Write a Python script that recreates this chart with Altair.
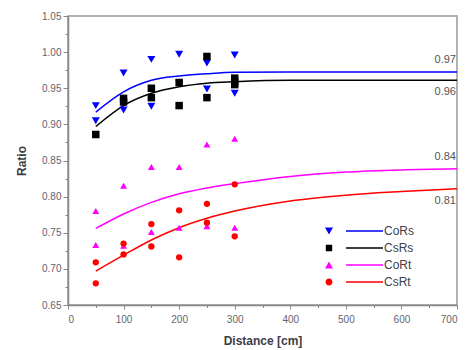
import altair as alt
import pandas as pd

# ---------------- data ----------------
series = ["CoRs", "CsRs", "CoRt", "CsRt"]
colors = ["#0000ff", "#000000", "#ff00ff", "#ff0000"]
shapes = ["triangle-down", "square", "triangle-up", "circle"]
marker_sizes = [64, 40, 64, 48]

cors_x = [50, 50, 100, 100, 150, 150, 200, 200, 250, 250, 300, 300]
cors_y = [0.926, 0.905, 0.971, 0.920, 0.990, 0.925, 0.997, 0.957, 0.985, 0.949, 0.996, 0.943]

csrs_x = [50, 100, 100, 150, 150, 200, 200, 250, 250, 300, 300, 300]
csrs_y = [0.886, 0.936, 0.931, 0.950, 0.937, 0.958, 0.926, 0.994, 0.937, 0.955, 0.959, 0.964]

cort_x = [50, 50, 100, 100, 150, 150, 200, 200, 250, 250, 300, 300]
cort_y = [0.780, 0.733, 0.815, 0.732, 0.841, 0.751, 0.841, 0.757, 0.872, 0.759, 0.880, 0.757]

csrt_x = [50, 50, 100, 100, 150, 150, 200, 200, 250, 250, 300, 300]
csrt_y = [0.709, 0.680, 0.735, 0.720, 0.762, 0.731, 0.781, 0.716, 0.790, 0.764, 0.817, 0.745]

# fitted curves, read at these distances
fit_x = [50, 100, 150, 200, 250, 300, 400, 500, 600, 700]
cors_fit = [0.917, 0.945, 0.961, 0.967, 0.970, 0.972, 0.9725, 0.9725, 0.9725, 0.9725]
csrs_fit = [0.897, 0.926, 0.943, 0.952, 0.957, 0.959, 0.961, 0.961, 0.961, 0.961]
cort_fit = [0.756, 0.776, 0.792, 0.804, 0.812, 0.818, 0.828, 0.834, 0.837, 0.8385]
csrt_fit = [0.697, 0.719, 0.740, 0.757, 0.770, 0.780, 0.794, 0.802, 0.807, 0.811]

end_labels = ["0.97", "0.96", "0.84", "0.81"]
end_pos = ["above", "below", "above", "below"]

x_major = [0, 100, 200, 300, 400, 500, 600, 700]
x_minor = [0, 50, 100, 150, 200, 250, 300, 350, 400, 450, 500, 550, 600, 650, 700]
y_major = [0.65, 0.70, 0.75, 0.80, 0.85, 0.90, 0.95, 1.00, 1.05]
y_minor = [0.65, 0.675, 0.70, 0.725, 0.75, 0.775, 0.80, 0.825, 0.85, 0.875,
           0.90, 0.925, 0.95, 0.975, 1.00, 1.025, 1.05]

# legend glyphs: marker followed by a short line segment (pixel units)
seg = "M17,-0.7H54V0.7H17Z"
legend_glyphs = [
    "M-4,-3.5L4,-3.5L0,3.5Z" + seg,
    "M-3.2,-3.2H3.2V3.2H-3.2Z" + seg,
    "M-4,3.5L4,3.5L0,-3.5Z" + seg,
    "M-3.5,0A3.5,3.5,0,1,0,3.5,0A3.5,3.5,0,1,0,-3.5,0Z" + seg,
]

# ---------------- tables ----------------
obs = [(cors_x, cors_y), (csrs_x, csrs_y), (cort_x, cort_y), (csrt_x, csrt_y)]
fits = [cors_fit, csrs_fit, cort_fit, csrt_fit]

pts = pd.DataFrame([
    {"series": s, "x": x, "y": y}
    for s, (xs, ys) in zip(series, obs) for x, y in zip(xs, ys)
])
curves = pd.DataFrame([
    {"series": s, "x": x, "y": y}
    for s, ys in zip(series, fits) for x, y in zip(fit_x, ys)
])
ends = pd.DataFrame([
    {"series": s, "label": lab, "pos": p, "x": fit_x[-1], "y": ys[-1]}
    for s, lab, p, ys in zip(series, end_labels, end_pos, fits)
])

FONT = "Liberation Sans"
xscale = alt.Scale(domain=[0, 700], nice=False, zero=False)
yscale = alt.Scale(domain=[0.65, 1.05], nice=False, zero=False)

lines = alt.Chart(curves).mark_line(strokeWidth=1.5, interpolate="monotone").encode(
    x=alt.X("x:Q", scale=xscale,
            axis=alt.Axis(values=x_minor, labels=False, title=None, domain=False,
                          tickSize=2.5, orient="bottom")),
    y=alt.Y("y:Q", scale=yscale,
            axis=alt.Axis(values=y_minor, labels=False, title=None, domain=False,
                          tickSize=3, orient="left")),
    stroke=alt.Stroke("series:N", scale=alt.Scale(domain=series, range=colors),
                      legend=None),
    order=alt.Order("x:Q"),
)

points = alt.Chart(pts).mark_point(filled=True, opacity=1, strokeWidth=0).encode(
    x=alt.X("x:Q", scale=xscale,
            axis=alt.Axis(values=x_major, format="d", title="Distance [cm]",
                          tickSize=4, labelPadding=5, titlePadding=11,
                          orient="bottom")),
    y=alt.Y("y:Q", scale=yscale,
            axis=alt.Axis(values=y_major, format=".2f", title="Ratio",
                          tickSize=5, labelPadding=2, titlePadding=13,
                          orient="left")),
    fill=alt.Fill("series:N", scale=alt.Scale(domain=series, range=colors),
                  legend=None),
    shape=alt.Shape("series:N", scale=alt.Scale(domain=series, range=shapes),
                    legend=None),
    size=alt.Size("series:N", scale=alt.Scale(domain=series, range=marker_sizes),
                  legend=None),
)

leg = dict(orient="none", legendX=255, legendY=209, title=None, symbolSize=4,
           symbolStrokeWidth=0, labelOffset=49, labelFontSize=12,
           labelColor="#404048", labelFont=FONT, rowPadding=5, padding=0)

legend_layer = alt.Chart(pts).transform_filter("false").mark_point(
    filled=True, opacity=1, strokeWidth=0).encode(
    x=alt.X("x:Q", scale=xscale, axis=None),
    y=alt.Y("y:Q", scale=yscale, axis=None),
    fill=alt.Fill("series:N", scale=alt.Scale(domain=series, range=colors),
                  legend=alt.Legend(**leg)),
    shape=alt.Shape("series:N", scale=alt.Scale(domain=series, range=legend_glyphs),
                    legend=alt.Legend(**leg)),
)

txt_common = dict(align="right", baseline="middle", dx=-1, fontSize=11,
                  color="#555", font=FONT)
above = alt.Chart(ends).transform_filter(alt.datum.pos == "above").mark_text(
    dy=-12, **txt_common).encode(
    x=alt.X("x:Q", scale=xscale, axis=None),
    y=alt.Y("y:Q", scale=yscale, axis=None),
    text="label:N",
)
below = alt.Chart(ends).transform_filter(alt.datum.pos == "below").mark_text(
    dy=12, **txt_common).encode(
    x=alt.X("x:Q", scale=xscale, axis=None),
    y=alt.Y("y:Q", scale=yscale, axis=None),
    text="label:N",
)

chart = alt.layer(lines, points, above, below, legend_layer).resolve_axis(
    x="independent", y="independent"
).resolve_scale(shape="independent", fill="independent").properties(
    width=389, height=289, autosize="none",
    padding={"left": 60, "top": 8, "right": 5, "bottom": 44},
    background="white",
).configure_axis(
    grid=False, domainColor="#888", domainWidth=1.5, tickColor="#888",
    tickWidth=1, labelColor="#5f6470", labelFont=FONT, labelFontSize=10,
    titleFont=FONT, titleFontSize=12, titleFontWeight="bold", titleColor="#3c3c46",
).configure_view(stroke="#999", strokeWidth=1.5)

chart.save("out.html", embed_options={"renderer": "svg", "actions": False})
